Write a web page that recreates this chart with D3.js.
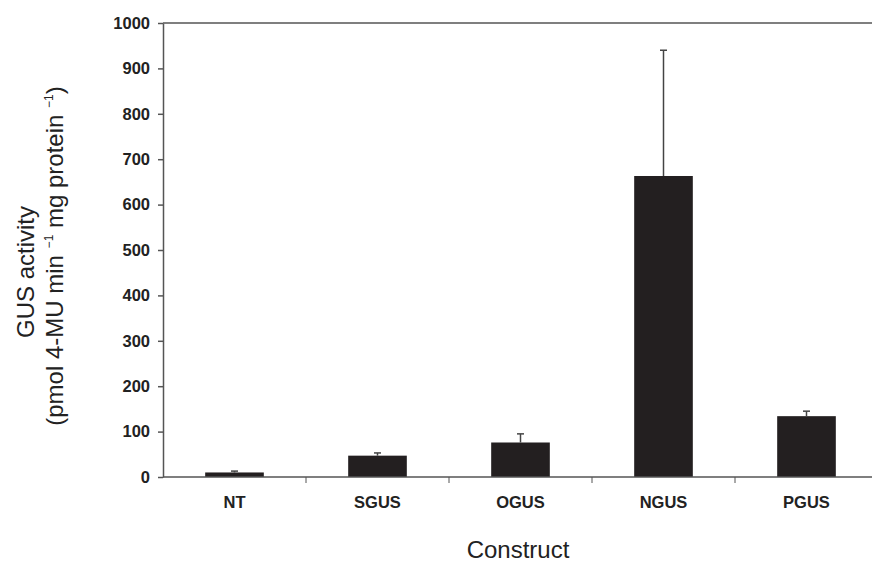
<!DOCTYPE html>
<html>
<head>
<meta charset="utf-8">
<script src="https://cdn.jsdelivr.net/npm/d3@7"></script>
<style>
  body { margin: 0; background: #fff; }
  .tick text { font-family: "Liberation Sans", Arial, sans-serif; font-weight: bold; font-size: 16.5px; fill: #222; }
  .label { font-family: "Liberation Sans", Arial, sans-serif; font-size: 24px; fill: #222; }
</style>
</head>
<body>
<svg id="chart"></svg>
<script>
var constructs = ["NT", "SGUS", "OGUS", "NGUS", "PGUS"];
var activity = [10, 47, 76, 663, 134];
var errors = [3, 6, 19, 277, 11];
var yTicks = [0, 100, 200, 300, 400, 500, 600, 700, 800, 900, 1000];

var screen = {width: 872, height: 564};
var margins = {top: 23, left: 163, bottom: 87, right: -6};
var graph = {
    width: screen.width - margins.left - margins.right,
    height: screen.height - margins.top - margins.bottom
};

var svg = d3.select("#chart")
    .attr("width", screen.width)
    .attr("height", screen.height);

var xScale = d3.scaleBand()
    .domain(constructs)
    .range([0, graph.width])
    .paddingInner(0.59)
    .paddingOuter(0.295);

var yScale = d3.scaleLinear()
    .domain([0, 1000])
    .range([graph.height, 0]);

var g = svg.append("g")
    .attr("transform", "translate(" + margins.left + "," + margins.top + ")");

// frame top line
g.append("line")
    .attr("x1", 0).attr("x2", graph.width)
    .attr("y1", 0).attr("y2", 0)
    .attr("stroke", "#555").attr("stroke-width", 1.5);

// bars
g.selectAll("rect.bar")
    .data(constructs)
    .enter()
    .append("rect")
    .attr("class", "bar")
    .attr("x", function(d) { return xScale(d); })
    .attr("width", xScale.bandwidth())
    .attr("y", function(d, i) { return yScale(activity[i]); })
    .attr("height", function(d, i) { return graph.height - yScale(activity[i]); })
    .attr("fill", "#231f20");

// error bars (upper only)
var errs = g.selectAll("g.err")
    .data(constructs)
    .enter()
    .append("g")
    .attr("class", "err");

errs.append("line")
    .attr("x1", function(d) { return xScale(d) + xScale.bandwidth() / 2; })
    .attr("x2", function(d) { return xScale(d) + xScale.bandwidth() / 2; })
    .attr("y1", function(d, i) { return yScale(activity[i]); })
    .attr("y2", function(d, i) { return yScale(activity[i] + errors[i]); })
    .attr("stroke", "#444").attr("stroke-width", 1.5);

errs.append("line")
    .attr("x1", function(d) { return xScale(d) + xScale.bandwidth() / 2 - 3.5; })
    .attr("x2", function(d) { return xScale(d) + xScale.bandwidth() / 2 + 3.5; })
    .attr("y1", function(d, i) { return yScale(activity[i] + errors[i]); })
    .attr("y2", function(d, i) { return yScale(activity[i] + errors[i]); })
    .attr("stroke", "#444").attr("stroke-width", 1.5);

// y axis
var yAxis = d3.axisLeft(yScale)
    .tickValues(yTicks)
    .tickFormat(d3.format("d"))
    .tickSize(5)
    .tickPadding(8)
    .tickSizeOuter(0);

var ya = g.append("g").call(yAxis);
ya.selectAll("path, line").attr("stroke", "#555").attr("stroke-width", 1.5);

// x axis: ticks at category boundaries
var xa = g.append("g")
    .attr("transform", "translate(0," + graph.height + ")");
xa.append("line")
    .attr("x1", 0).attr("x2", graph.width)
    .attr("stroke", "#555").attr("stroke-width", 1.5);
var step = xScale.step();
xa.selectAll("line.bound")
    .data(constructs.slice(1))
    .enter()
    .append("line")
    .attr("class", "bound")
    .attr("x1", function(d) { return xScale(d) - step * 0.295; })
    .attr("x2", function(d) { return xScale(d) - step * 0.295; })
    .attr("y1", 0).attr("y2", 6)
    .attr("stroke", "#555").attr("stroke-width", 1);
xa.selectAll("text")
    .data(constructs)
    .enter()
    .append("text")
    .attr("x", function(d) { return xScale(d) + xScale.bandwidth() / 2; })
    .attr("y", 31)
    .attr("text-anchor", "middle")
    .style("font-family", "'Liberation Sans', Arial, sans-serif")
    .style("font-weight", "bold")
    .style("font-size", "16.5px")
    .style("fill", "#222")
    .text(function(d) { return d; });

// labels
svg.append("text")
    .classed("label", true)
    .attr("text-anchor", "middle")
    .attr("x", 518)
    .attr("y", 558)
    .text("Construct");

svg.append("text")
    .classed("label", true)
    .attr("text-anchor", "middle")
    .attr("transform", "translate(34,272) rotate(-90)")
    .text("GUS activity");

var l2 = svg.append("text")
    .classed("label", true)
    .attr("text-anchor", "middle")
    .attr("transform", "translate(63,256) rotate(-90)");
l2.append("tspan").text("(pmol 4-MU min ");
l2.append("tspan").attr("dy", -10).style("font-size", "12px").text("\u22121");
l2.append("tspan").attr("dy", 10).text(" mg protein ");
l2.append("tspan").attr("dy", -10).style("font-size", "12px").text("\u22121");
l2.append("tspan").attr("dy", 10).text(")");
</script>
</body>
</html>
